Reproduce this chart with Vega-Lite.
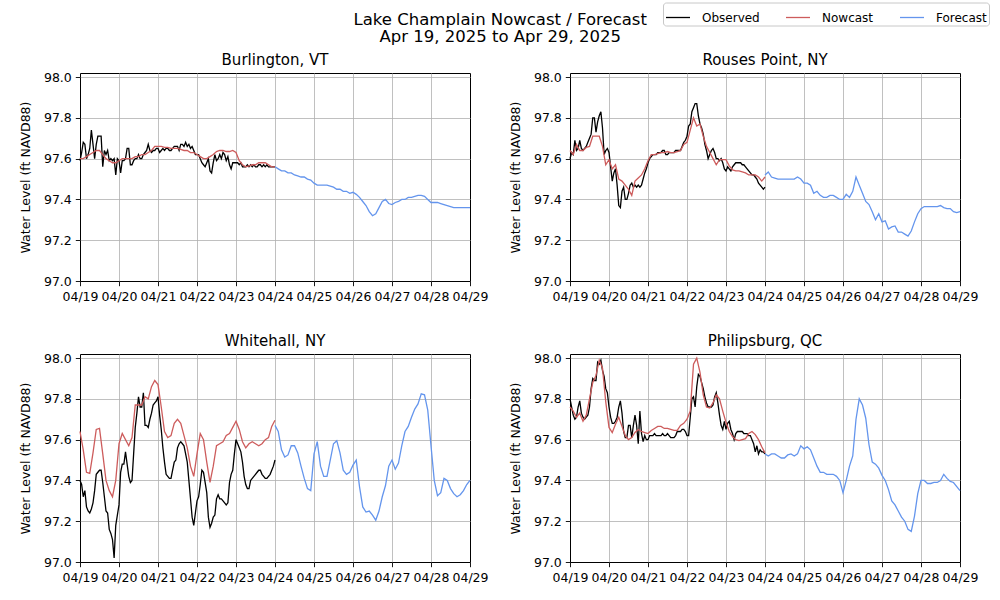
{
"$schema":"https://vega.github.io/schema/vega-lite/v6.json",
"background":"white",
"padding":{"left":18,"top":2,"right":5,"bottom":5},
"title":{"text":["Lake Champlain Nowcast / Forecast","Apr 19, 2025 to Apr 29, 2025"],"font":"DejaVu Sans","fontSize":16.5,"fontWeight":"normal","color":"#000000","lineHeight":17,"anchor":"middle","offset":-43,"dx":-4},
"datasets":{
"obs":[
{"t":"2025-04-19T00:00","B":97.59,"R":97.60,"W":97.40,"P":97.80},
{"t":"2025-04-19T01:00","B":97.63,"R":97.63,"W":97.38,"P":97.76},
{"t":"2025-04-19T02:00","B":97.68,"R":97.62,"W":97.32,"P":97.72},
{"t":"2025-04-19T03:00","B":97.67,"R":97.69,"W":97.35,"P":97.70},
{"t":"2025-04-19T04:00","B":97.60,"R":97.64,"W":97.27,"P":97.71},
{"t":"2025-04-19T05:00","B":97.62,"R":97.65,"W":97.25,"P":97.76},
{"t":"2025-04-19T06:00","B":97.65,"R":97.69,"W":97.24,"P":97.79},
{"t":"2025-04-19T07:00","B":97.74,"R":97.65,"W":97.26,"P":97.73},
{"t":"2025-04-19T08:00","B":97.67,"R":97.64,"W":97.29,"P":97.71},
{"t":"2025-04-19T09:00","B":97.60,"R":97.65,"W":97.35,"P":97.70},
{"t":"2025-04-19T10:00","B":97.67,"R":97.66,"W":97.43,"P":97.71},
{"t":"2025-04-19T11:00","B":97.71,"R":97.68,"W":97.44,"P":97.72},
{"t":"2025-04-19T12:00","B":97.71,"R":97.70,"W":97.45,"P":97.76},
{"t":"2025-04-19T13:00","B":97.71,"R":97.72,"W":97.45,"P":97.85},
{"t":"2025-04-19T14:00","B":97.56,"R":97.80,"W":97.39,"P":97.90},
{"t":"2025-04-19T15:00","B":97.64,"R":97.80,"W":97.32,"P":97.89},
{"t":"2025-04-19T16:00","B":97.62,"R":97.73,"W":97.25,"P":97.89},
{"t":"2025-04-19T17:00","B":97.64,"R":97.78,"W":97.24,"P":97.98},
{"t":"2025-04-19T18:00","B":97.59,"R":97.81,"W":97.16,"P":97.97},
{"t":"2025-04-19T19:00","B":97.60,"R":97.83,"W":97.14,"P":97.99},
{"t":"2025-04-19T20:00","B":97.59,"R":97.75,"W":97.11,"P":97.94},
{"t":"2025-04-19T21:00","B":97.60,"R":97.62,"W":97.02,"P":97.91},
{"t":"2025-04-19T22:00","B":97.52,"R":97.64,"W":97.18,"P":97.85},
{"t":"2025-04-19T23:00","B":97.60,"R":97.65,"W":97.23,"P":97.83},
{"t":"2025-04-20T00:00","B":97.59,"R":97.63,"W":97.28,"P":97.76},
{"t":"2025-04-20T01:00","B":97.53,"R":97.56,"W":97.44,"P":97.71},
{"t":"2025-04-20T02:00","B":97.59,"R":97.49,"W":97.48,"P":97.68},
{"t":"2025-04-20T03:00","B":97.59,"R":97.53,"W":97.48,"P":97.68},
{"t":"2025-04-20T04:00","B":97.60,"R":97.55,"W":97.54,"P":97.69},
{"t":"2025-04-20T05:00","B":97.65,"R":97.47,"W":97.48,"P":97.71},
{"t":"2025-04-20T06:00","B":97.65,"R":97.37,"W":97.42,"P":97.76},
{"t":"2025-04-20T07:00","B":97.57,"R":97.36,"W":97.39,"P":97.79},
{"t":"2025-04-20T08:00","B":97.57,"R":97.44,"W":97.40,"P":97.73},
{"t":"2025-04-20T09:00","B":97.59,"R":97.46,"W":97.53,"P":97.64},
{"t":"2025-04-20T10:00","B":97.60,"R":97.40,"W":97.66,"P":97.61},
{"t":"2025-04-20T11:00","B":97.60,"R":97.40,"W":97.73,"P":97.61},
{"t":"2025-04-20T12:00","B":97.62,"R":97.43,"W":97.81,"P":97.67},
{"t":"2025-04-20T13:00","B":97.60,"R":97.47,"W":97.76,"P":97.67},
{"t":"2025-04-20T14:00","B":97.60,"R":97.48,"W":97.76,"P":97.61},
{"t":"2025-04-20T15:00","B":97.62,"R":97.46,"W":97.83,"P":97.67},
{"t":"2025-04-20T16:00","B":97.63,"R":97.47,"W":97.67,"P":97.72},
{"t":"2025-04-20T17:00","B":97.64,"R":97.46,"W":97.67,"P":97.67},
{"t":"2025-04-20T18:00","B":97.67,"R":97.47,"W":97.66,"P":97.58},
{"t":"2025-04-20T19:00","B":97.64,"R":97.46,"W":97.70,"P":97.74},
{"t":"2025-04-20T20:00","B":97.63,"R":97.47,"W":97.73,"P":97.63},
{"t":"2025-04-20T21:00","B":97.64,"R":97.50,"W":97.77,"P":97.59},
{"t":"2025-04-20T22:00","B":97.64,"R":97.53,"W":97.78,"P":97.62},
{"t":"2025-04-20T23:00","B":97.65,"R":97.55,"W":97.79,"P":97.60},
{"t":"2025-04-21T00:00","B":97.65,"R":97.58,"W":97.81,"P":97.60},
{"t":"2025-04-21T01:00","B":97.63,"R":97.60,"W":97.72,"P":97.62},
{"t":"2025-04-21T02:00","B":97.64,"R":97.61,"W":97.65,"P":97.62},
{"t":"2025-04-21T03:00","B":97.65,"R":97.62,"W":97.56,"P":97.62},
{"t":"2025-04-21T04:00","B":97.64,"R":97.62,"W":97.49,"P":97.63},
{"t":"2025-04-21T05:00","B":97.65,"R":97.62,"W":97.43,"P":97.62},
{"t":"2025-04-21T06:00","B":97.65,"R":97.63,"W":97.42,"P":97.62},
{"t":"2025-04-21T07:00","B":97.64,"R":97.63,"W":97.41,"P":97.62},
{"t":"2025-04-21T08:00","B":97.64,"R":97.63,"W":97.41,"P":97.62},
{"t":"2025-04-21T09:00","B":97.65,"R":97.64,"W":97.45,"P":97.63},
{"t":"2025-04-21T10:00","B":97.66,"R":97.64,"W":97.49,"P":97.62},
{"t":"2025-04-21T11:00","B":97.66,"R":97.62,"W":97.50,"P":97.62},
{"t":"2025-04-21T12:00","B":97.66,"R":97.62,"W":97.56,"P":97.63},
{"t":"2025-04-21T13:00","B":97.64,"R":97.63,"W":97.58,"P":97.62},
{"t":"2025-04-21T14:00","B":97.67,"R":97.63,"W":97.59,"P":97.61},
{"t":"2025-04-21T15:00","B":97.67,"R":97.63,"W":97.58,"P":97.61},
{"t":"2025-04-21T16:00","B":97.66,"R":97.63,"W":97.57,"P":97.61},
{"t":"2025-04-21T17:00","B":97.68,"R":97.64,"W":97.53,"P":97.62},
{"t":"2025-04-21T18:00","B":97.66,"R":97.64,"W":97.49,"P":97.64},
{"t":"2025-04-21T19:00","B":97.67,"R":97.64,"W":97.40,"P":97.64},
{"t":"2025-04-21T20:00","B":97.65,"R":97.64,"W":97.31,"P":97.64},
{"t":"2025-04-21T21:00","B":97.66,"R":97.66,"W":97.22,"P":97.65},
{"t":"2025-04-21T22:00","B":97.64,"R":97.68,"W":97.18,"P":97.65},
{"t":"2025-04-21T23:00","B":97.62,"R":97.69,"W":97.24,"P":97.64},
{"t":"2025-04-22T00:00","B":97.62,"R":97.71,"W":97.30,"P":97.62},
{"t":"2025-04-22T01:00","B":97.62,"R":97.76,"W":97.32,"P":97.62},
{"t":"2025-04-22T02:00","B":97.60,"R":97.77,"W":97.38,"P":97.71},
{"t":"2025-04-22T03:00","B":97.58,"R":97.83,"W":97.45,"P":97.80},
{"t":"2025-04-22T04:00","B":97.57,"R":97.85,"W":97.44,"P":97.81},
{"t":"2025-04-22T05:00","B":97.56,"R":97.87,"W":97.39,"P":97.76},
{"t":"2025-04-22T06:00","B":97.58,"R":97.87,"W":97.34,"P":97.86},
{"t":"2025-04-22T07:00","B":97.60,"R":97.81,"W":97.22,"P":97.92},
{"t":"2025-04-22T08:00","B":97.54,"R":97.77,"W":97.17,"P":97.91},
{"t":"2025-04-22T09:00","B":97.53,"R":97.75,"W":97.19,"P":97.88},
{"t":"2025-04-22T10:00","B":97.58,"R":97.72,"W":97.22,"P":97.85},
{"t":"2025-04-22T11:00","B":97.62,"R":97.67,"W":97.23,"P":97.81},
{"t":"2025-04-22T12:00","B":97.59,"R":97.64,"W":97.31,"P":97.78},
{"t":"2025-04-22T13:00","B":97.60,"R":97.60,"W":97.33,"P":97.76},
{"t":"2025-04-22T14:00","B":97.62,"R":97.62,"W":97.31,"P":97.76},
{"t":"2025-04-22T15:00","B":97.60,"R":97.64,"W":97.31,"P":97.76},
{"t":"2025-04-22T16:00","B":97.63,"R":97.65,"W":97.30,"P":97.77},
{"t":"2025-04-22T17:00","B":97.62,"R":97.63,"W":97.29,"P":97.81},
{"t":"2025-04-22T18:00","B":97.59,"R":97.60,"W":97.28,"P":97.83},
{"t":"2025-04-22T19:00","B":97.61,"R":97.60,"W":97.29,"P":97.78},
{"t":"2025-04-22T20:00","B":97.57,"R":97.59,"W":97.39,"P":97.72},
{"t":"2025-04-22T21:00","B":97.55,"R":97.60,"W":97.43,"P":97.67},
{"t":"2025-04-22T22:00","B":97.58,"R":97.58,"W":97.45,"P":97.65},
{"t":"2025-04-22T23:00","B":97.58,"R":97.55,"W":97.53,"P":97.69},
{"t":"2025-04-23T00:00","B":97.58,"R":97.54,"W":97.60,"P":97.65},
{"t":"2025-04-23T01:00","B":97.58,"R":97.56,"W":97.58,"P":97.68},
{"t":"2025-04-23T02:00","B":97.57,"R":97.55,"W":97.56,"P":97.69},
{"t":"2025-04-23T03:00","B":97.58,"R":97.54,"W":97.54,"P":97.65},
{"t":"2025-04-23T04:00","B":97.56,"R":97.56,"W":97.49,"P":97.63},
{"t":"2025-04-23T05:00","B":97.56,"R":97.57,"W":97.42,"P":97.60},
{"t":"2025-04-23T06:00","B":97.56,"R":97.58,"W":97.38,"P":97.63},
{"t":"2025-04-23T07:00","B":97.57,"R":97.58,"W":97.36,"P":97.64},
{"t":"2025-04-23T08:00","B":97.56,"R":97.58,"W":97.36,"P":97.64},
{"t":"2025-04-23T09:00","B":97.57,"R":97.58,"W":97.40,"P":97.64},
{"t":"2025-04-23T10:00","B":97.56,"R":97.57,"W":97.41,"P":97.64},
{"t":"2025-04-23T11:00","B":97.57,"R":97.57,"W":97.42,"P":97.63},
{"t":"2025-04-23T12:00","B":97.56,"R":97.56,"W":97.43,"P":97.63},
{"t":"2025-04-23T13:00","B":97.56,"R":97.55,"W":97.44,"P":97.63},
{"t":"2025-04-23T14:00","B":97.57,"R":97.54,"W":97.45,"P":97.62},
{"t":"2025-04-23T15:00","B":97.57,"R":97.53,"W":97.45,"P":97.62},
{"t":"2025-04-23T16:00","B":97.56,"R":97.52,"W":97.43,"P":97.60},
{"t":"2025-04-23T17:00","B":97.57,"R":97.52,"W":97.42,"P":97.58},
{"t":"2025-04-23T18:00","B":97.56,"R":97.51,"W":97.41,"P":97.54},
{"t":"2025-04-23T19:00","B":97.57,"R":97.50,"W":97.41,"P":97.57},
{"t":"2025-04-23T20:00","B":97.56,"R":97.48,"W":97.42,"P":97.53},
{"t":"2025-04-23T21:00","B":97.56,"R":97.47,"W":97.43,"P":97.55},
{"t":"2025-04-23T22:00","B":97.56,"R":97.46,"W":97.45,"P":97.54},
{"t":"2025-04-23T23:00","B":97.56,"R":97.45,"W":97.47,"P":97.54},
{"t":"2025-04-24T00:00","B":97.56,"R":97.46,"W":97.50,"P":97.53}
],
"now":[
{"t":"2025-04-19T00:00","B":97.60,"R":97.64,"W":97.64,"P":97.76},
{"t":"2025-04-19T02:00","B":97.60,"R":97.62,"W":97.55,"P":97.74},
{"t":"2025-04-19T04:00","B":97.61,"R":97.67,"W":97.44,"P":97.71},
{"t":"2025-04-19T06:00","B":97.62,"R":97.64,"W":97.435,"P":97.73},
{"t":"2025-04-19T08:00","B":97.63,"R":97.64,"W":97.535,"P":97.69},
{"t":"2025-04-19T10:00","B":97.64,"R":97.655,"W":97.65,"P":97.72},
{"t":"2025-04-19T12:00","B":97.64,"R":97.66,"W":97.655,"P":97.80},
{"t":"2025-04-19T14:00","B":97.62,"R":97.71,"W":97.53,"P":97.88},
{"t":"2025-04-19T16:00","B":97.60,"R":97.71,"W":97.40,"P":97.915},
{"t":"2025-04-19T18:00","B":97.59,"R":97.71,"W":97.35,"P":97.99},
{"t":"2025-04-19T20:00","B":97.58,"R":97.66,"W":97.32,"P":97.95},
{"t":"2025-04-19T22:00","B":97.58,"R":97.57,"W":97.40,"P":97.785},
{"t":"2025-04-20T00:00","B":97.59,"R":97.595,"W":97.58,"P":97.66},
{"t":"2025-04-20T02:00","B":97.60,"R":97.55,"W":97.63,"P":97.635},
{"t":"2025-04-20T04:00","B":97.60,"R":97.57,"W":97.60,"P":97.675},
{"t":"2025-04-20T06:00","B":97.60,"R":97.50,"W":97.57,"P":97.71},
{"t":"2025-04-20T08:00","B":97.60,"R":97.49,"W":97.61,"P":97.665},
{"t":"2025-04-20T10:00","B":97.61,"R":97.47,"W":97.77,"P":97.62},
{"t":"2025-04-20T12:00","B":97.61,"R":97.45,"W":97.77,"P":97.60},
{"t":"2025-04-20T14:00","B":97.62,"R":97.42,"W":97.77,"P":97.61},
{"t":"2025-04-20T16:00","B":97.62,"R":97.49,"W":97.81,"P":97.635},
{"t":"2025-04-20T18:00","B":97.63,"R":97.505,"W":97.80,"P":97.65},
{"t":"2025-04-20T20:00","B":97.64,"R":97.52,"W":97.86,"P":97.64},
{"t":"2025-04-20T22:00","B":97.66,"R":97.55,"W":97.89,"P":97.635},
{"t":"2025-04-21T00:00","B":97.66,"R":97.59,"W":97.87,"P":97.63},
{"t":"2025-04-21T02:00","B":97.66,"R":97.62,"W":97.76,"P":97.645},
{"t":"2025-04-21T04:00","B":97.655,"R":97.62,"W":97.64,"P":97.655},
{"t":"2025-04-21T06:00","B":97.655,"R":97.625,"W":97.61,"P":97.665},
{"t":"2025-04-21T08:00","B":97.65,"R":97.63,"W":97.62,"P":97.665},
{"t":"2025-04-21T10:00","B":97.65,"R":97.63,"W":97.68,"P":97.655},
{"t":"2025-04-21T12:00","B":97.65,"R":97.635,"W":97.70,"P":97.655},
{"t":"2025-04-21T14:00","B":97.645,"R":97.63,"W":97.68,"P":97.65},
{"t":"2025-04-21T16:00","B":97.64,"R":97.63,"W":97.62,"P":97.645},
{"t":"2025-04-21T18:00","B":97.64,"R":97.635,"W":97.56,"P":97.645},
{"t":"2025-04-21T20:00","B":97.63,"R":97.64,"W":97.47,"P":97.67},
{"t":"2025-04-21T22:00","B":97.63,"R":97.67,"W":97.42,"P":97.68},
{"t":"2025-04-22T00:00","B":97.62,"R":97.68,"W":97.53,"P":97.70},
{"t":"2025-04-22T02:00","B":97.61,"R":97.74,"W":97.63,"P":97.74},
{"t":"2025-04-22T04:00","B":97.60,"R":97.80,"W":97.60,"P":97.97},
{"t":"2025-04-22T06:00","B":97.60,"R":97.76,"W":97.49,"P":98.00},
{"t":"2025-04-22T08:00","B":97.61,"R":97.77,"W":97.39,"P":97.93},
{"t":"2025-04-22T10:00","B":97.62,"R":97.71,"W":97.47,"P":97.82},
{"t":"2025-04-22T12:00","B":97.635,"R":97.66,"W":97.57,"P":97.76},
{"t":"2025-04-22T14:00","B":97.64,"R":97.63,"W":97.58,"P":97.755},
{"t":"2025-04-22T16:00","B":97.64,"R":97.60,"W":97.59,"P":97.78},
{"t":"2025-04-22T18:00","B":97.635,"R":97.57,"W":97.62,"P":97.82},
{"t":"2025-04-22T20:00","B":97.635,"R":97.595,"W":97.63,"P":97.80},
{"t":"2025-04-22T22:00","B":97.64,"R":97.595,"W":97.66,"P":97.74},
{"t":"2025-04-23T00:00","B":97.63,"R":97.595,"W":97.69,"P":97.685},
{"t":"2025-04-23T02:00","B":97.59,"R":97.565,"W":97.65,"P":97.64},
{"t":"2025-04-23T04:00","B":97.57,"R":97.545,"W":97.59,"P":97.615},
{"t":"2025-04-23T06:00","B":97.56,"R":97.54,"W":97.56,"P":97.60},
{"t":"2025-04-23T08:00","B":97.565,"R":97.54,"W":97.58,"P":97.595},
{"t":"2025-04-23T10:00","B":97.57,"R":97.535,"W":97.59,"P":97.60},
{"t":"2025-04-23T12:00","B":97.57,"R":97.53,"W":97.58,"P":97.605},
{"t":"2025-04-23T14:00","B":97.58,"R":97.52,"W":97.57,"P":97.63},
{"t":"2025-04-23T16:00","B":97.58,"R":97.52,"W":97.58,"P":97.64},
{"t":"2025-04-23T18:00","B":97.58,"R":97.52,"W":97.60,"P":97.625},
{"t":"2025-04-23T20:00","B":97.57,"R":97.51,"W":97.61,"P":97.60},
{"t":"2025-04-23T22:00","B":97.56,"R":97.49,"W":97.665,"P":97.565},
{"t":"2025-04-24T00:00","B":97.56,"R":97.51,"W":97.695,"P":97.535}
],
"fc":[
{"t":"2025-04-24T00:00","B":97.56,"R":97.52,"W":97.67,"P":97.53},
{"t":"2025-04-24T02:00","B":97.55,"R":97.535,"W":97.64,"P":97.52},
{"t":"2025-04-24T04:00","B":97.54,"R":97.51,"W":97.55,"P":97.53},
{"t":"2025-04-24T06:00","B":97.54,"R":97.505,"W":97.515,"P":97.53},
{"t":"2025-04-24T08:00","B":97.53,"R":97.50,"W":97.525,"P":97.52},
{"t":"2025-04-24T10:00","B":97.53,"R":97.50,"W":97.57,"P":97.51},
{"t":"2025-04-24T12:00","B":97.52,"R":97.50,"W":97.57,"P":97.51},
{"t":"2025-04-24T14:00","B":97.515,"R":97.50,"W":97.535,"P":97.525},
{"t":"2025-04-24T16:00","B":97.51,"R":97.50,"W":97.47,"P":97.53},
{"t":"2025-04-24T18:00","B":97.51,"R":97.50,"W":97.41,"P":97.52},
{"t":"2025-04-24T20:00","B":97.50,"R":97.51,"W":97.36,"P":97.53},
{"t":"2025-04-24T22:00","B":97.495,"R":97.50,"W":97.35,"P":97.57},
{"t":"2025-04-25T00:00","B":97.48,"R":97.48,"W":97.53,"P":97.555},
{"t":"2025-04-25T02:00","B":97.47,"R":97.48,"W":97.59,"P":97.565},
{"t":"2025-04-25T04:00","B":97.47,"R":97.47,"W":97.47,"P":97.55},
{"t":"2025-04-25T06:00","B":97.47,"R":97.43,"W":97.42,"P":97.51},
{"t":"2025-04-25T08:00","B":97.47,"R":97.44,"W":97.42,"P":97.47},
{"t":"2025-04-25T10:00","B":97.465,"R":97.42,"W":97.50,"P":97.44},
{"t":"2025-04-25T12:00","B":97.46,"R":97.41,"W":97.58,"P":97.44},
{"t":"2025-04-25T14:00","B":97.45,"R":97.41,"W":97.595,"P":97.43},
{"t":"2025-04-25T16:00","B":97.45,"R":97.42,"W":97.535,"P":97.43},
{"t":"2025-04-25T18:00","B":97.44,"R":97.42,"W":97.45,"P":97.43},
{"t":"2025-04-25T20:00","B":97.44,"R":97.41,"W":97.43,"P":97.42},
{"t":"2025-04-25T22:00","B":97.43,"R":97.40,"W":97.44,"P":97.40},
{"t":"2025-04-26T00:00","B":97.435,"R":97.40,"W":97.475,"P":97.34},
{"t":"2025-04-26T02:00","B":97.425,"R":97.425,"W":97.50,"P":97.40},
{"t":"2025-04-26T04:00","B":97.41,"R":97.41,"W":97.37,"P":97.47},
{"t":"2025-04-26T06:00","B":97.39,"R":97.44,"W":97.27,"P":97.52},
{"t":"2025-04-26T08:00","B":97.37,"R":97.51,"W":97.245,"P":97.70},
{"t":"2025-04-26T10:00","B":97.34,"R":97.47,"W":97.25,"P":97.80},
{"t":"2025-04-26T12:00","B":97.32,"R":97.43,"W":97.23,"P":97.77},
{"t":"2025-04-26T14:00","B":97.33,"R":97.39,"W":97.205,"P":97.705},
{"t":"2025-04-26T16:00","B":97.36,"R":97.375,"W":97.25,"P":97.575},
{"t":"2025-04-26T18:00","B":97.39,"R":97.34,"W":97.32,"P":97.49},
{"t":"2025-04-26T20:00","B":97.40,"R":97.30,"W":97.375,"P":97.48},
{"t":"2025-04-26T22:00","B":97.38,"R":97.33,"W":97.47,"P":97.46},
{"t":"2025-04-27T00:00","B":97.375,"R":97.29,"W":97.50,"P":97.425},
{"t":"2025-04-27T02:00","B":97.385,"R":97.295,"W":97.455,"P":97.40},
{"t":"2025-04-27T04:00","B":97.39,"R":97.255,"W":97.485,"P":97.355},
{"t":"2025-04-27T06:00","B":97.40,"R":97.265,"W":97.57,"P":97.30},
{"t":"2025-04-27T08:00","B":97.40,"R":97.27,"W":97.64,"P":97.28},
{"t":"2025-04-27T10:00","B":97.41,"R":97.24,"W":97.665,"P":97.25},
{"t":"2025-04-27T12:00","B":97.41,"R":97.24,"W":97.71,"P":97.22},
{"t":"2025-04-27T14:00","B":97.415,"R":97.23,"W":97.75,"P":97.20},
{"t":"2025-04-27T16:00","B":97.42,"R":97.22,"W":97.775,"P":97.16},
{"t":"2025-04-27T18:00","B":97.42,"R":97.245,"W":97.825,"P":97.15},
{"t":"2025-04-27T20:00","B":97.415,"R":97.29,"W":97.82,"P":97.225},
{"t":"2025-04-27T22:00","B":97.40,"R":97.33,"W":97.745,"P":97.335},
{"t":"2025-04-28T00:00","B":97.385,"R":97.355,"W":97.57,"P":97.40},
{"t":"2025-04-28T02:00","B":97.385,"R":97.365,"W":97.40,"P":97.40},
{"t":"2025-04-28T04:00","B":97.385,"R":97.365,"W":97.325,"P":97.385},
{"t":"2025-04-28T06:00","B":97.38,"R":97.365,"W":97.34,"P":97.385},
{"t":"2025-04-28T08:00","B":97.375,"R":97.365,"W":97.41,"P":97.39},
{"t":"2025-04-28T10:00","B":97.37,"R":97.365,"W":97.40,"P":97.39},
{"t":"2025-04-28T12:00","B":97.365,"R":97.37,"W":97.36,"P":97.40},
{"t":"2025-04-28T14:00","B":97.36,"R":97.36,"W":97.335,"P":97.43},
{"t":"2025-04-28T16:00","B":97.36,"R":97.355,"W":97.32,"P":97.41},
{"t":"2025-04-28T18:00","B":97.36,"R":97.355,"W":97.33,"P":97.395},
{"t":"2025-04-28T20:00","B":97.36,"R":97.34,"W":97.35,"P":97.39},
{"t":"2025-04-28T22:00","B":97.36,"R":97.335,"W":97.38,"P":97.37},
{"t":"2025-04-29T00:00","B":97.36,"R":97.34,"W":97.40,"P":97.35}
]
},
"columns":2,
"spacing":{"row":73,"column":100},
"bounds":"flush",
"concat":[
{"title":"Burlington, VT","width":390,"height":208,
"encoding":{"x":{"field":"t","type":"temporal","title":null,"scale":{"domain":[{"year":2025,"month":4,"date":19},{"year":2025,"month":4,"date":29}],"nice":false},"axis":{"format":"%m/%d","values":[{"year":2025,"month":4,"date":19},{"year":2025,"month":4,"date":20},{"year":2025,"month":4,"date":21},{"year":2025,"month":4,"date":22},{"year":2025,"month":4,"date":23},{"year":2025,"month":4,"date":24},{"year":2025,"month":4,"date":25},{"year":2025,"month":4,"date":26},{"year":2025,"month":4,"date":27},{"year":2025,"month":4,"date":28},{"year":2025,"month":4,"date":29}],"labelFlush":false,"labelOverlap":false,"labelPadding":5,"gridOpacity":{"condition":{"test":"date(datum.value)==19 || date(datum.value)==29","value":0},"value":1}}}},
"layer":[
{"data":{"name":"obs"},"mark":{"type":"line","strokeWidth":1.3},"encoding":{"y":{"field":"B","type":"quantitative","title":"Water Level (ft NAVD88)","scale":{"domain":[97,98.02],"nice":false,"zero":false},"axis":{"values":[97,97.2,97.4,97.6,97.8,98],"format":".1f","gridOpacity":{"condition":{"test":"datum.value < 97.01","value":0},"value":1}}},"color":{"datum":"Observed","type":"nominal","title":null,"scale":{"domain":["Observed","Nowcast","Forecast"],"range":["#000000","#cd5c5c","#6495ed"]}}}},
{"data":{"name":"now"},"mark":{"type":"line","strokeWidth":1.3},"encoding":{"y":{"field":"B","type":"quantitative","title":"Water Level (ft NAVD88)"},"color":{"datum":"Nowcast","type":"nominal","title":null}}},
{"data":{"name":"fc"},"mark":{"type":"line","strokeWidth":1.3},"encoding":{"y":{"field":"B","type":"quantitative","title":"Water Level (ft NAVD88)"},"color":{"datum":"Forecast","type":"nominal","title":null}}}
]},
{"title":"Rouses Point, NY","width":390,"height":208,
"encoding":{"x":{"field":"t","type":"temporal","title":null,"scale":{"domain":[{"year":2025,"month":4,"date":19},{"year":2025,"month":4,"date":29}],"nice":false},"axis":{"format":"%m/%d","values":[{"year":2025,"month":4,"date":19},{"year":2025,"month":4,"date":20},{"year":2025,"month":4,"date":21},{"year":2025,"month":4,"date":22},{"year":2025,"month":4,"date":23},{"year":2025,"month":4,"date":24},{"year":2025,"month":4,"date":25},{"year":2025,"month":4,"date":26},{"year":2025,"month":4,"date":27},{"year":2025,"month":4,"date":28},{"year":2025,"month":4,"date":29}],"labelFlush":false,"labelOverlap":false,"labelPadding":5,"gridOpacity":{"condition":{"test":"date(datum.value)==19 || date(datum.value)==29","value":0},"value":1}}}},
"layer":[
{"data":{"name":"obs"},"mark":{"type":"line","strokeWidth":1.3},"encoding":{"y":{"field":"R","type":"quantitative","title":"Water Level (ft NAVD88)","scale":{"domain":[97,98.02],"nice":false,"zero":false},"axis":{"values":[97,97.2,97.4,97.6,97.8,98],"format":".1f","gridOpacity":{"condition":{"test":"datum.value < 97.01","value":0},"value":1}}},"color":{"datum":"Observed","type":"nominal","title":null,"scale":{"domain":["Observed","Nowcast","Forecast"],"range":["#000000","#cd5c5c","#6495ed"]}}}},
{"data":{"name":"now"},"mark":{"type":"line","strokeWidth":1.3},"encoding":{"y":{"field":"R","type":"quantitative","title":"Water Level (ft NAVD88)"},"color":{"datum":"Nowcast","type":"nominal","title":null}}},
{"data":{"name":"fc"},"mark":{"type":"line","strokeWidth":1.3},"encoding":{"y":{"field":"R","type":"quantitative","title":"Water Level (ft NAVD88)"},"color":{"datum":"Forecast","type":"nominal","title":null}}}
]},
{"title":"Whitehall, NY","width":390,"height":208,
"encoding":{"x":{"field":"t","type":"temporal","title":null,"scale":{"domain":[{"year":2025,"month":4,"date":19},{"year":2025,"month":4,"date":29}],"nice":false},"axis":{"format":"%m/%d","values":[{"year":2025,"month":4,"date":19},{"year":2025,"month":4,"date":20},{"year":2025,"month":4,"date":21},{"year":2025,"month":4,"date":22},{"year":2025,"month":4,"date":23},{"year":2025,"month":4,"date":24},{"year":2025,"month":4,"date":25},{"year":2025,"month":4,"date":26},{"year":2025,"month":4,"date":27},{"year":2025,"month":4,"date":28},{"year":2025,"month":4,"date":29}],"labelFlush":false,"labelOverlap":false,"labelPadding":5,"gridOpacity":{"condition":{"test":"date(datum.value)==19 || date(datum.value)==29","value":0},"value":1}}}},
"layer":[
{"data":{"name":"obs"},"mark":{"type":"line","strokeWidth":1.3},"encoding":{"y":{"field":"W","type":"quantitative","title":"Water Level (ft NAVD88)","scale":{"domain":[97,98.02],"nice":false,"zero":false},"axis":{"values":[97,97.2,97.4,97.6,97.8,98],"format":".1f","gridOpacity":{"condition":{"test":"datum.value < 97.01","value":0},"value":1}}},"color":{"datum":"Observed","type":"nominal","title":null,"scale":{"domain":["Observed","Nowcast","Forecast"],"range":["#000000","#cd5c5c","#6495ed"]}}}},
{"data":{"name":"now"},"mark":{"type":"line","strokeWidth":1.3},"encoding":{"y":{"field":"W","type":"quantitative","title":"Water Level (ft NAVD88)"},"color":{"datum":"Nowcast","type":"nominal","title":null}}},
{"data":{"name":"fc"},"mark":{"type":"line","strokeWidth":1.3},"encoding":{"y":{"field":"W","type":"quantitative","title":"Water Level (ft NAVD88)"},"color":{"datum":"Forecast","type":"nominal","title":null}}}
]},
{"title":"Philipsburg, QC","width":390,"height":208,
"encoding":{"x":{"field":"t","type":"temporal","title":null,"scale":{"domain":[{"year":2025,"month":4,"date":19},{"year":2025,"month":4,"date":29}],"nice":false},"axis":{"format":"%m/%d","values":[{"year":2025,"month":4,"date":19},{"year":2025,"month":4,"date":20},{"year":2025,"month":4,"date":21},{"year":2025,"month":4,"date":22},{"year":2025,"month":4,"date":23},{"year":2025,"month":4,"date":24},{"year":2025,"month":4,"date":25},{"year":2025,"month":4,"date":26},{"year":2025,"month":4,"date":27},{"year":2025,"month":4,"date":28},{"year":2025,"month":4,"date":29}],"labelFlush":false,"labelOverlap":false,"labelPadding":5,"gridOpacity":{"condition":{"test":"date(datum.value)==19 || date(datum.value)==29","value":0},"value":1}}}},
"layer":[
{"data":{"name":"obs"},"mark":{"type":"line","strokeWidth":1.3},"encoding":{"y":{"field":"P","type":"quantitative","title":"Water Level (ft NAVD88)","scale":{"domain":[97,98.02],"nice":false,"zero":false},"axis":{"values":[97,97.2,97.4,97.6,97.8,98],"format":".1f","gridOpacity":{"condition":{"test":"datum.value < 97.01","value":0},"value":1}}},"color":{"datum":"Observed","type":"nominal","title":null,"scale":{"domain":["Observed","Nowcast","Forecast"],"range":["#000000","#cd5c5c","#6495ed"]}}}},
{"data":{"name":"now"},"mark":{"type":"line","strokeWidth":1.3},"encoding":{"y":{"field":"P","type":"quantitative","title":"Water Level (ft NAVD88)"},"color":{"datum":"Nowcast","type":"nominal","title":null}}},
{"data":{"name":"fc"},"mark":{"type":"line","strokeWidth":1.3},"encoding":{"y":{"field":"P","type":"quantitative","title":"Water Level (ft NAVD88)"},"color":{"datum":"Forecast","type":"nominal","title":null}}}
]}
],
"config":{
"font":"DejaVu Sans",
"view":{"stroke":"#000000","strokeWidth":1},
"axis":{"domain":false,"grid":true,"gridColor":"#b0b0b0","gridWidth":0.8,"tickColor":"#000000","tickSize":4.7,"tickWidth":0.9,"labelFont":"DejaVu Sans","labelFontSize":12.5,"labelColor":"#000000","labelPadding":4,"titleFont":"DejaVu Sans","titleFontSize":12.5,"titleFontWeight":"normal","titleColor":"#000000","titlePadding":11},
"title":{"font":"DejaVu Sans","fontSize":15,"fontWeight":"normal","color":"#000000","offset":3},
"legend":{"orient":"none","legendX":583,"legendY":-70.5,"direction":"horizontal","labelFont":"DejaVu Sans","labelFontSize":12,"labelColor":"#000000","symbolType":"stroke","symbolSize":576,"symbolStrokeWidth":1.3,"labelOffset":11,"columnPadding":23,"padding":2,"fillColor":"#ffffff","strokeColor":"#c8c8c8","strokeWidth":1,"cornerRadius":3}
}
}
